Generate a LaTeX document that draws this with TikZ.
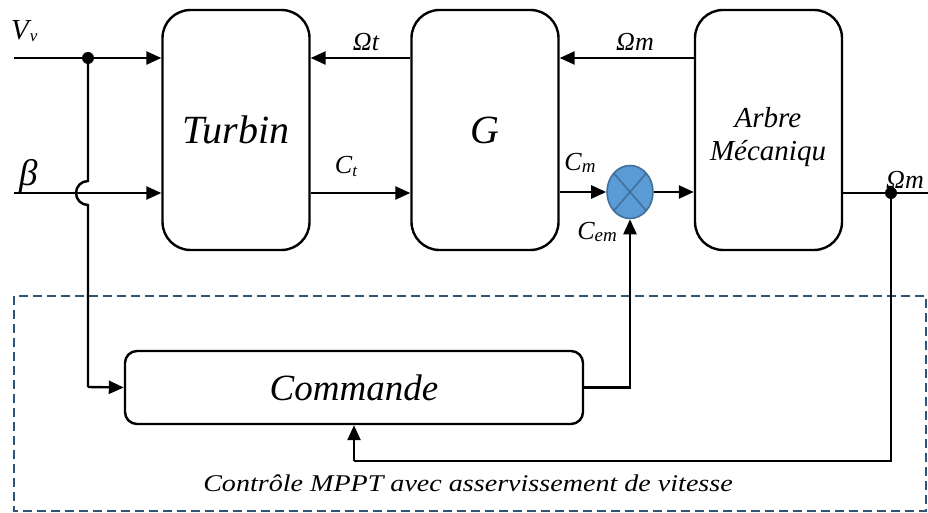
\documentclass[tikz,border=0pt]{standalone}
\usepackage{fontspec}
\setmainfont{Liberation Serif}
\usetikzlibrary{arrows.meta,shapes.geometric,calc}
\definecolor{sumfill}{HTML}{5B9BD5}
\definecolor{sumedge}{HTML}{41719C}
\definecolor{dashblue}{HTML}{2F5479}
\tikzset{
  wire/.style={line width=2.4pt,line join=miter},
  arr/.style={wire,-{Triangle[length=15pt,width=13pt]}},
  blockbox/.style={draw,line width=2.4pt,rounded corners=28pt,inner sep=0pt,
    minimum width=147pt,minimum height=240pt,font=\itshape\fontsize{40}{42}\selectfont},
  lbl/.style={inner sep=0pt,font=\itshape\fontsize{26}{28}\selectfont},
  dot/.style={circle,fill,inner sep=0pt,minimum size=12pt},
}
\begin{document}
\begin{tikzpicture}[x=1pt,y=-1pt]
\useasboundingbox (0,0) rectangle (928,513);

% control area
\draw[dashblue,line width=2.2pt,dash pattern=on 9pt off 5pt] (14,296) rectangle (926,511);

% main blocks
\node[blockbox] (turb) at (236,130) {Turbin};
\node[blockbox] (gen) at (485,130) {G};
\node[blockbox] (arbre) at (768.5,130) {};
\node[align=center,inner sep=0pt,font=\itshape\fontsize{29}{33}\selectfont] (arbrelbl) at (768,137) {Arbre\\Mécaniqu};
\node[draw,line width=2.4pt,rounded corners=12pt,inner sep=0pt,minimum width=458pt,minimum height=73pt,
  font=\itshape\fontsize{37}{40}\selectfont] (cmd) at (354,387.5) {Commande};

% summing junction
\node[ellipse,draw=sumedge,fill=sumfill,line width=1.6pt,minimum width=46pt,minimum height=53pt,inner sep=0pt] (sum) at (630,192) {};
\draw[sumedge,line width=1.6pt] ($(sum.center)+(-16,-18.5)$) -- ($(sum.center)+(16,18.5)$)
  ($(sum.center)+(-16,18.5)$) -- ($(sum.center)+(16,-18.5)$);

% inputs
\coordinate (vin) at (14,58);
\coordinate (bin) at (14,193);
\node[dot] (jv) at (88,58) {};
\draw[arr] (vin) -- (turb.west |- vin);
\draw[arr] (bin) -- (turb.west |- bin);
\node[inner sep=0pt,anchor=west,font=\itshape\fontsize{29}{30}\selectfont] (vv) at (11,31) {V\kern1pt\raisebox{-2pt}{\fontsize{17}{18}\selectfont v}};
\node[inner sep=0pt,font=\itshape\fontsize{37}{38}\selectfont,anchor=west] (beta) at (19,176) {β};

% wind speed branch to the controller, hopping over the pitch line
\draw[wire] (jv.center) -- (88,181) arc[start angle=270,end angle=90,radius=12] -- (88,387);
\draw[arr] (88,387) -- (cmd.west);

% signals between the blocks
\draw[arr] (gen.west |- 0,58) -- (turb.east |- 0,58);
\draw[arr] (arbre.west |- 0,58) -- (gen.east |- 0,58);
\draw[arr] (turb.east |- 0,193) -- (gen.west |- 0,193);
\draw[arr] (gen.east |- sum) -- (sum.west);
\draw[arr] (sum.east) -- (arbre.west |- sum);
\draw[arr] (cmd.east) -| (sum.south);

\node[lbl] (wt) at (366,42) {Ωt};
\node[lbl] (wm) at (635,42) {Ωm};
\node[lbl] (ct) at (346,166) {C\raisebox{-3pt}{\fontsize{17}{18}\selectfont t}};
\node[lbl] (cm) at (580,163) {C\raisebox{-2pt}{\fontsize{19}{20}\selectfont m}};
\node[lbl] (cem) at (597,232) {C\raisebox{-2pt}{\fontsize{19}{20}\selectfont em}};

% rotor speed output and feedback
\coordinate (wout) at (943,193);
\node[dot] (jw) at (891,193) {};
\draw[arr] (arbre.east |- wout) -- (wout);
\node[lbl] (wm2) at (905,180) {Ωm};
\draw[wire] (jw.center) -- (891,461) -- (354,461);
\draw[arr] (354,461) -- (cmd.south);

\node[inner sep=0pt,font=\itshape\fontsize{24}{26}\selectfont] (mppt) at (468,483)
  {\scalebox{1.17}[1]{Contrôle MPPT avec asservissement de vitesse}};
\end{tikzpicture}
\end{document}
